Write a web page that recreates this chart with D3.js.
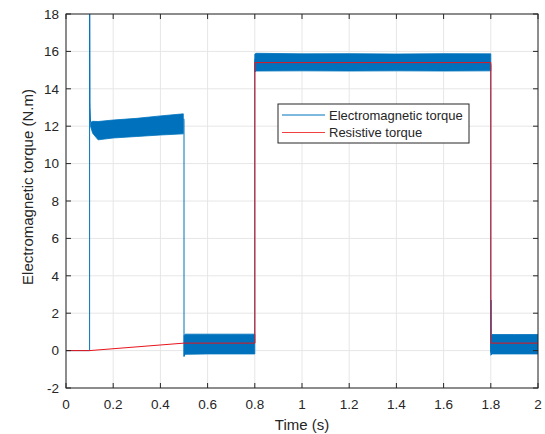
<!DOCTYPE html>
<html>
<head>
<meta charset="utf-8">
<script src="https://d3js.org/d3.v7.min.js"></script>
<style>
  body { margin: 0; background: #fff; }
  svg text { font-family: "Liberation Sans", Arial, sans-serif; fill: #262626; }
</style>
</head>
<body>
<div id="chart"></div>
<script>
// tick values
var xTicks = [0, 0.2, 0.4, 0.6, 0.8, 1, 1.2, 1.4, 1.6, 1.8, 2];
var yTicks = [-2, 0, 2, 4, 6, 8, 10, 12, 14, 16, 18];

// resistive torque (N.m)
var resTime = [0, 0.1, 0.5, 0.8, 0.8, 1.8, 1.8, 2];
var resVal  = [0, 0, 0.4, 0.4, 15.4, 15.4, 0.4, 0.4];

// electromagnetic torque: transient strokes between ripple bands
var emTime = [0, 0.1, 0.1, 0.1005, 0.1015, 0.102, 0.104, null,
              0.4995, 0.5, 0.5, null,
              0.8, 0.8, 0.8005, null,
              1.8, 1.8, 1.801, 1.802, 1.803];
var emVal  = [0, 0, 19, 19, 13.3, 13.0, 12.2, null,
              12.4, 12.3, -0.3, null,
              0.4, 15.5, 15.6, null,
              15.3, -0.1, 2.7, 0.4, 0.2];

// ripple envelopes (upper / lower) for each steady part
var band1Time = [0.104, 0.113, 0.136, 0.2, 0.3, 0.4, 0.497];
var band1Hi   = [12.2, 12.26, 12.25, 12.33, 12.42, 12.55, 12.66];
var band1Lo   = [12.0, 11.62, 11.27, 11.37, 11.45, 11.53, 11.59];

var band2Time = [0.5, 0.505, 0.6, 0.7, 0.8];
var band2Hi   = [0.8, 0.88, 0.88, 0.88, 0.88];
var band2Lo   = [-0.32, -0.2, -0.18, -0.18, -0.18];

var band3Time = [0.8, 0.805, 1.0, 1.2, 1.4, 1.6, 1.8];
var band3Hi   = [15.85, 15.9, 15.87, 15.88, 15.86, 15.88, 15.87];
var band3Lo   = [14.9, 14.95, 14.96, 14.95, 14.96, 14.95, 14.96];

var band4Time = [1.8, 1.805, 1.9, 2];
var band4Hi   = [0.8, 0.86, 0.86, 0.86];
var band4Lo   = [-0.25, -0.18, -0.18, -0.18];

var legendLabels = ["Electromagnetic torque", "Resistive torque"];

var W = 545, H = 434;
var margin = {top: 14, right: 7, bottom: 46, left: 66},
    width = W - margin.left - margin.right,
    height = H - margin.top - margin.bottom;

var blue = "#0072BD", red = "#E8141B", axisCol = "#262626";

var svg = d3.select("#chart").append("svg")
    .attr("width", W).attr("height", H)
  .append("g")
    .attr("transform", "translate(" + margin.left + "," + margin.top + ")");

var x = d3.scaleLinear().domain([0, 2]).range([0, width]);
var y = d3.scaleLinear().domain([-2, 18]).range([height, 0]);

svg.append("clipPath").attr("id", "clip")
  .append("rect").attr("width", width).attr("height", height);

// grid
svg.append("g").selectAll("line").data(xTicks).enter().append("line")
    .attr("x1", function(d) { return x(d); }).attr("x2", function(d) { return x(d); })
    .attr("y1", 0).attr("y2", height)
    .attr("stroke", "#e6e6e6").attr("stroke-width", 1);
svg.append("g").selectAll("line").data(yTicks).enter().append("line")
    .attr("y1", function(d) { return y(d); }).attr("y2", function(d) { return y(d); })
    .attr("x1", 0).attr("x2", width)
    .attr("stroke", "#e6e6e6").attr("stroke-width", 1);

var plot = svg.append("g").attr("clip-path", "url(#clip)");

// ripple bands
var bands = [[band1Time, band1Hi, band1Lo], [band2Time, band2Hi, band2Lo],
             [band3Time, band3Hi, band3Lo], [band4Time, band4Hi, band4Lo]];
var area = d3.area()
    .x(function(d) { return x(d.t); })
    .y0(function(d) { return y(d.lo); })
    .y1(function(d) { return y(d.hi); });
bands.forEach(function(b) {
  var pts = b[0].map(function(t, i) { return {t: t, hi: b[1][i], lo: b[2][i]}; });
  plot.append("path").datum(pts)
      .attr("d", area)
      .attr("fill", blue)
      .attr("stroke", blue).attr("stroke-width", 0.8);
});

// electromagnetic transients
var emPts = emTime.map(function(t, i) { return {t: t, v: emVal[i]}; });
plot.append("path").datum(emPts)
    .attr("d", d3.line()
      .defined(function(d) { return d.t !== null; })
      .x(function(d) { return x(d.t); })
      .y(function(d) { return y(d.v); }))
    .attr("fill", "none").attr("stroke", blue).attr("stroke-width", 1);

// resistive torque
var resPts = resTime.map(function(t, i) { return {t: t, v: resVal[i]}; });
plot.append("path").datum(resPts)
    .attr("d", d3.line().x(function(d) { return x(d.t); }).y(function(d) { return y(d.v); }))
    .attr("fill", "none").attr("stroke", red).attr("stroke-width", 1);

// axes box + ticks
var tl = 5;
svg.append("rect").attr("width", width).attr("height", height)
    .attr("fill", "none").attr("stroke", axisCol).attr("stroke-width", 1);
var tk = svg.append("g").attr("stroke", axisCol).attr("stroke-width", 1);
xTicks.forEach(function(d) {
  tk.append("line").attr("x1", x(d)).attr("x2", x(d)).attr("y1", height).attr("y2", height - tl);
  tk.append("line").attr("x1", x(d)).attr("x2", x(d)).attr("y1", 0).attr("y2", tl);
});
yTicks.forEach(function(d) {
  tk.append("line").attr("y1", y(d)).attr("y2", y(d)).attr("x1", 0).attr("x2", tl);
  tk.append("line").attr("y1", y(d)).attr("y2", y(d)).attr("x1", width).attr("x2", width - tl);
});

svg.append("g").selectAll("text").data(xTicks).enter().append("text")
    .attr("x", function(d) { return x(d); })
    .attr("y", height + 21)
    .attr("text-anchor", "middle")
    .style("font-size", "13.5px")
    .text(function(d) { return d; });
svg.append("g").selectAll("text").data(yTicks).enter().append("text")
    .attr("x", -7)
    .attr("y", function(d) { return y(d); })
    .attr("dy", "0.36em")
    .attr("text-anchor", "end")
    .style("font-size", "13.5px")
    .text(function(d) { return d; });

svg.append("text")
    .attr("x", width / 2).attr("y", height + 42)
    .attr("text-anchor", "middle")
    .style("font-size", "15px")
    .text("Time (s)");
svg.append("text")
    .attr("transform", "translate(" + (33 - margin.left) + "," + (187 - margin.top) + ") rotate(-90)")
    .attr("text-anchor", "middle")
    .style("font-size", "15px")
    .text("Electromagnetic torque (N.m)");

// legend
var lg = svg.append("g").attr("transform", "translate(" + (278 - margin.left) + "," + (104 - margin.top) + ")");
lg.append("rect").attr("width", 191).attr("height", 39)
    .attr("fill", "#fff").attr("stroke", axisCol).attr("stroke-width", 1);
[blue, "#F04040"].forEach(function(c, i) {
  var yy = 11 + i * 17.5;
  lg.append("line").attr("x1", 4).attr("x2", 47).attr("y1", yy).attr("y2", yy)
      .attr("stroke", c).attr("stroke-width", 1);
  lg.append("text").attr("x", 51).attr("y", yy).attr("dy", "0.35em")
      .style("font-size", "13px").text(legendLabels[i]);
});
</script>
</body>
</html>
